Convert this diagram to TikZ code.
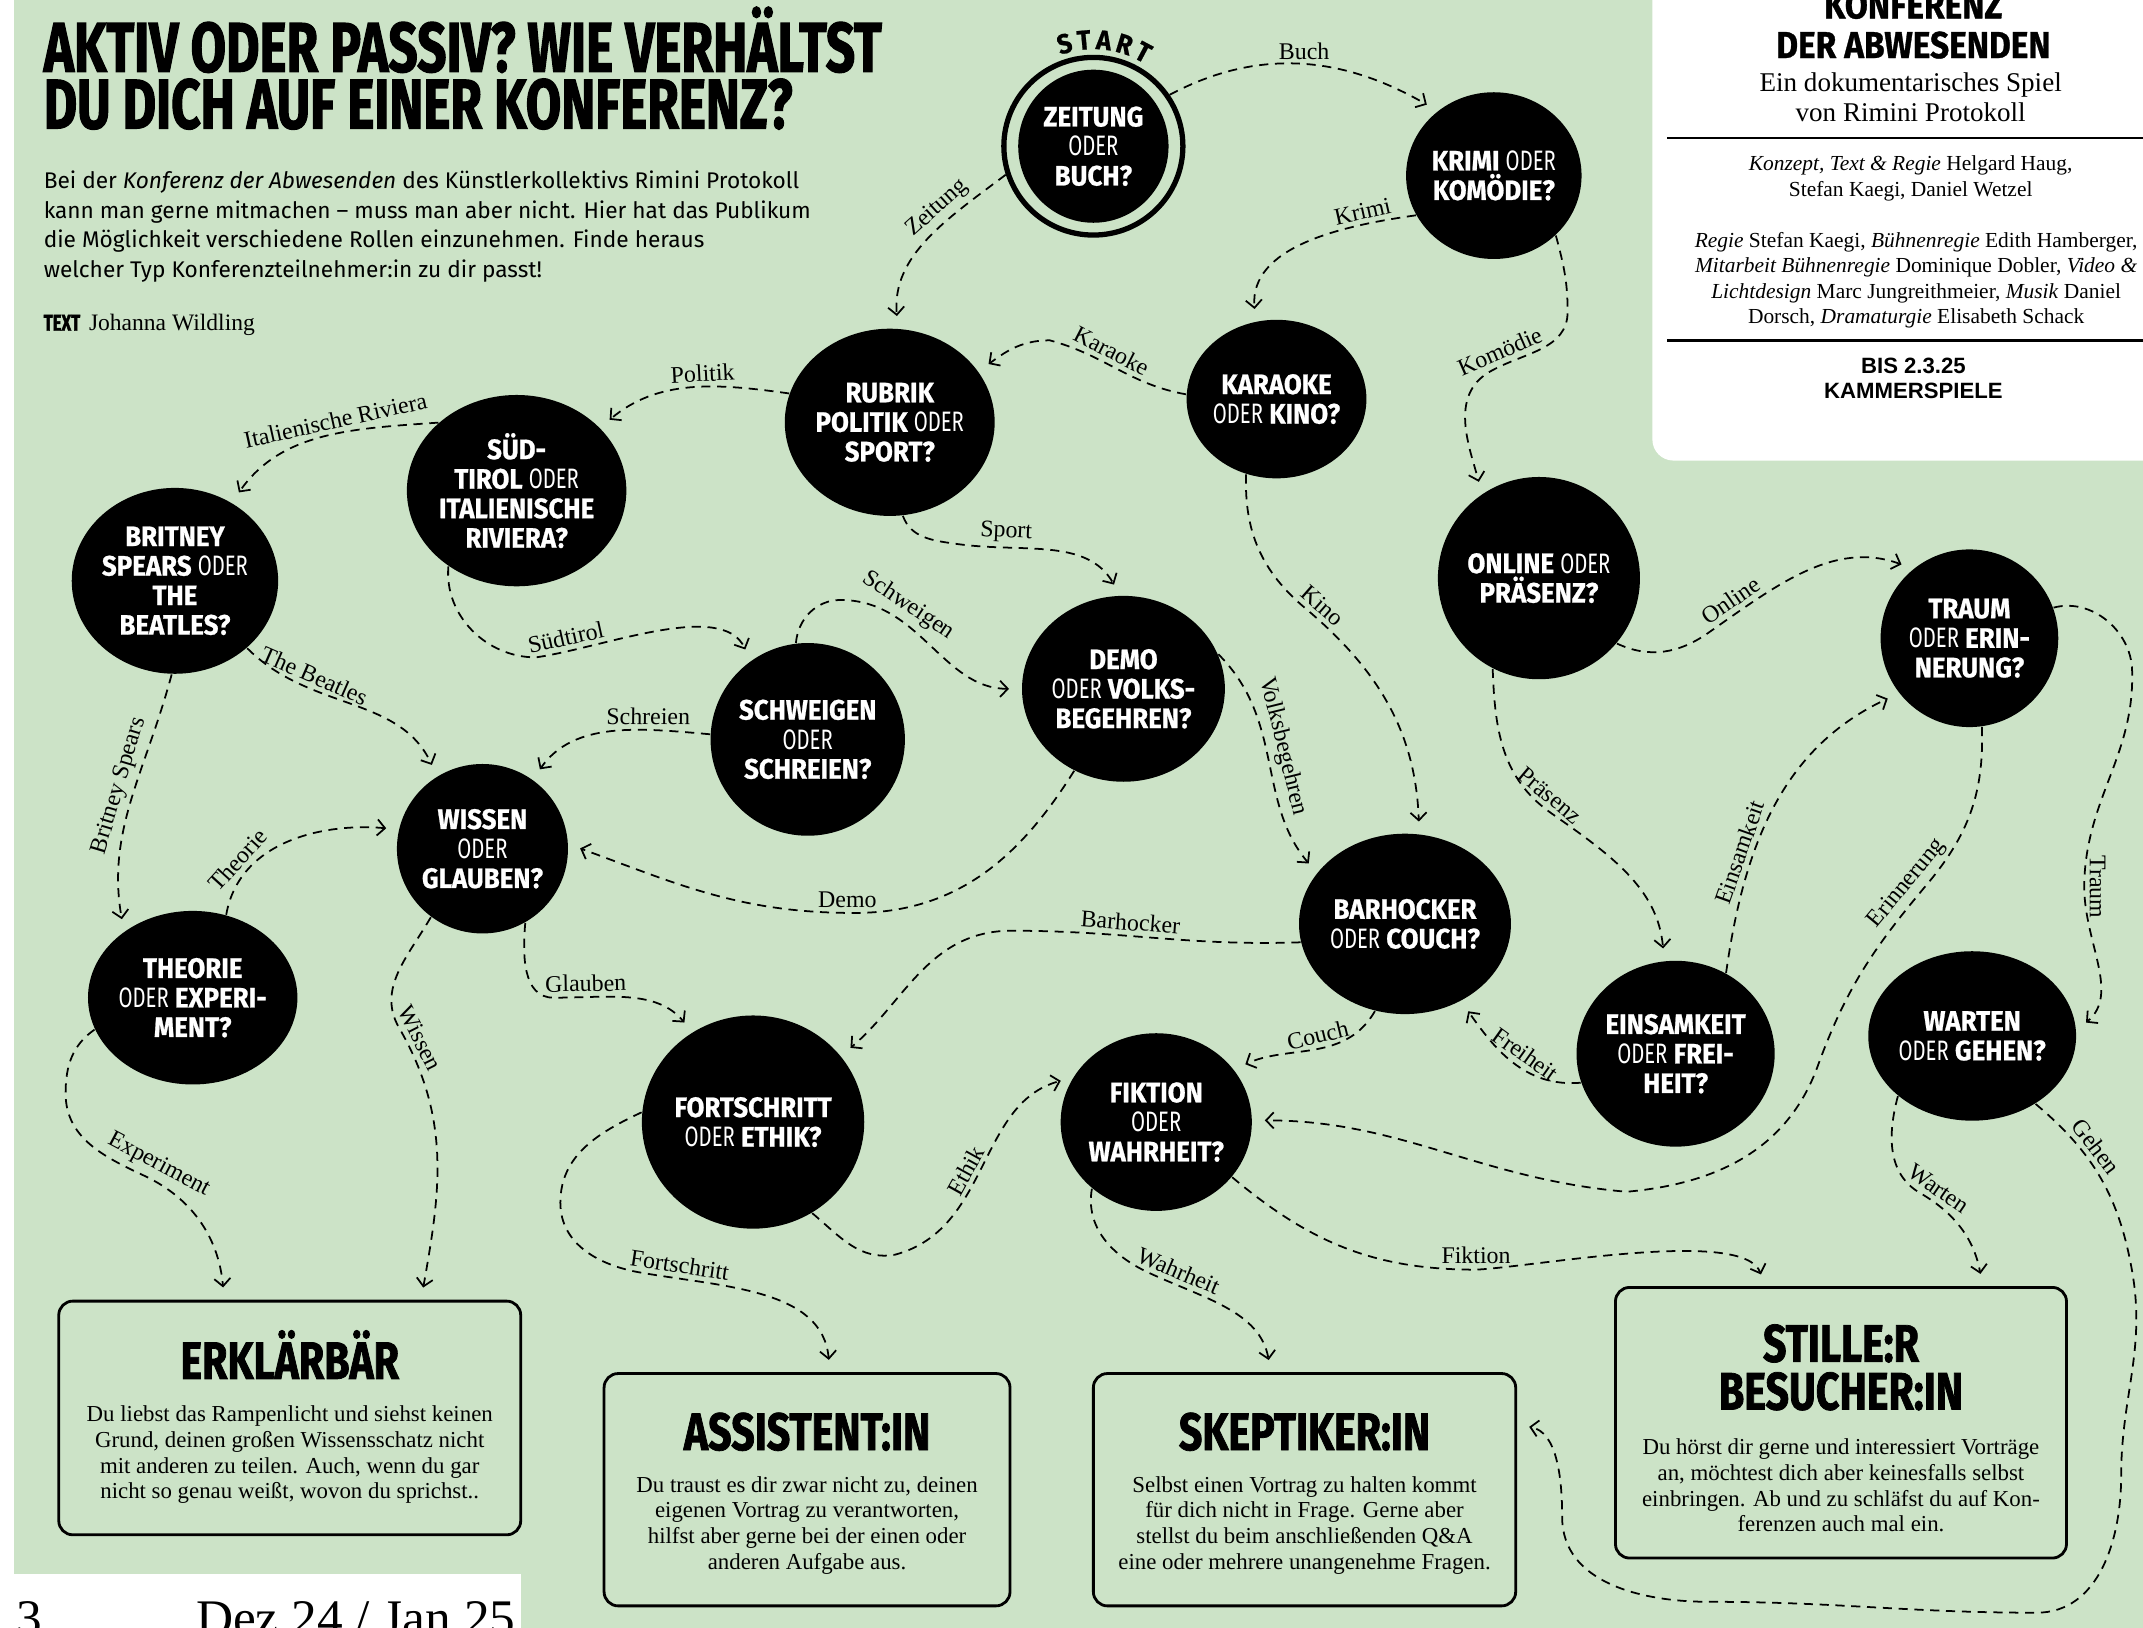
\documentclass[tikz,border=0pt]{standalone}
\usepackage{fontspec}
\setmainfont{Liberation Serif}
\newfontfamily\kopf[FakeStretch=0.73,BoldFeatures={FakeBold=1.6}]{Fira Sans}
\newfontfamily\marke[FakeStretch=0.78,BoldFeatures={FakeBold=1.4}]{Fira Sans}
\newfontfamily\kopfb[FakeStretch=0.89,BoldFeatures={FakeBold=0.8}]{Fira Sans}
\newfontfamily\kreis[FakeStretch=0.92,BoldFeatures={FakeBold=0.8}]{Fira Sans}
\newfontfamily\odrfont[FakeStretch=0.72]{Fira Sans}
\newfontfamily\grot{Fira Sans}
\newfontfamily\arial{Liberation Sans}
\usetikzlibrary{arrows.meta,positioning,shapes.geometric,decorations.text}
\definecolor{gruen}{HTML}{CCE3C7}
\newlength{\einh}\setlength{\einh}{0.13667mm}
\newcommand{\oder}{{\odrfont\mdseries ODER}}
\tikzset{frage/.style 2 args={ellipse,fill=black,text=white,inner sep=0pt,align=center,
  minimum width=#1\einh,minimum height=#2\einh,font=\kreis\bfseries\fontsize{8}{8.4}\selectfont},
  ring/.style={ellipse,draw,line width=1.5pt,inner sep=0pt,minimum width=131\einh,minimum height=130\einh},
  ergebnis/.style 2 args={draw,rounded corners=4pt,line width=0.8pt,inner sep=0pt,
  minimum width=#1\einh,minimum height=#2\einh},
  etitel/.style={font=\marke\bfseries\fontsize{15}{13.6}\selectfont,align=center,inner sep=0pt},
  etext/.style={font=\fontsize{6.5}{7.35}\selectfont,align=center,inner sep=0pt},
  titel/.style={font=\kopf\bfseries\fontsize{20}{18}\selectfont,inner sep=0pt,anchor=base west},
  pfad/.style={line width=0.5pt,dash pattern=on 2.6pt off 1.9pt,
  -{Straight Barb[length=2.2pt,width=4.6pt]},shorten >=3.5pt},
  lbl/.style={font=\fontsize{6.8}{7}\selectfont,inner sep=1.3pt}}

\begin{document}
\begin{tikzpicture}[x=0.13667mm,y=0.13667mm]
\useasboundingbox (0,0) rectangle (1568,-1191);
\fill[white] (0,0) rectangle (1568,-1191);
\fill[gruen] (10,0) rectangle (1568,-1191);
\fill[white] (0,-1152) rectangle (381,-1191);
\fill[white,rounded corners=6pt] (1209,-337) rectangle (1620,30);

% Kopf
\node[titel] (titel1) at (31.5,-52.5) {AKTIV ODER PASSIV? WIE VERHÄLTST};
\node[titel] (titel2) at (31.5,-94) {DU DICH AUF EINER KONFERENZ?};
\node[anchor=north west,align=left,inner sep=0pt,font=\grot\fontsize{6.45}{8.4}\selectfont] (intro) at (31.5,-124.5)
  {Bei der \textit{Konferenz der Abwesenden} des Künstlerkollektivs Rimini Protokoll\\%
   kann man gerne mitmachen – muss man aber nicht. Hier hat das Publikum\\%
   die Möglichkeit verschiedene Rollen einzunehmen. Finde heraus\\%
   welcher Typ Konferenzteilnehmer:in zu dir passt!};
\node[anchor=base west,inner sep=0pt] (autor) at (31.5,-242)
  {{\kopf\bfseries\fontsize{6.5}{8}\selectfont TEXT} {\fontsize{6.7}{8}\selectfont Johanna Wildling}};

% Infokasten
\node[anchor=south,align=center,inner sep=0pt,font=\kopfb\bfseries\fontsize{10.7}{11.3}\selectfont] (stueck) at (1400,-43.5) {KONFERENZ\\DER ABWESENDEN};
\node[anchor=north,align=center,inner sep=0pt,font=\fontsize{7.7}{8.55}\selectfont] (spiel) at (1398,-52.5) {Ein dokumentarisches Spiel\\von Rimini Protokoll};
\draw[line width=0.8pt] (1220,-101) -- (1600,-101);
\node[anchor=north,align=center,inner sep=0pt,font=\fontsize{6.1}{7.3}\selectfont] (team1) at (1398,-113.3)
  {\textit{Konzept, Text \& Regie} Helgard Haug,\\Stefan Kaegi, Daniel Wetzel};
\node[anchor=north,align=center,inner sep=0pt,font=\fontsize{6.1}{7.15}\selectfont] (team2) at (1402,-169.8)
  {\textit{Regie} Stefan Kaegi, \textit{Bühnenregie} Edith Hamberger,\\%
   \textit{Mitarbeit Bühnenregie} Dominique Dobler, \textit{Video \&}\\%
   \textit{Lichtdesign} Marc Jungreithmeier, \textit{Musik} Daniel\\%
   Dorsch, \textit{Dramaturgie} Elisabeth Schack};
\draw[line width=0.8pt] (1220,-249) -- (1600,-249);
\node[anchor=north,align=center,inner sep=0pt,font=\arial\bfseries\fontsize{6.3}{7}\selectfont] (termin) at (1400,-261.6) {BIS 2.3.25\\KAMMERSPIELE};

\node[anchor=base west,inner sep=0pt,font=\fontsize{14.6}{15}\selectfont] (seite) at (11.5,-1197) {3};
\node[anchor=base west,inner sep=0pt,font=\fontsize{14.6}{15}\selectfont] (datum) at (143,-1197) {Dez 24 / Jan 25};

% Fragen
\node[ring] (start) at (800,-107) {};
\node[frage={110}{112}] (zeit) at (800,-107) {ZEITUNG\\\oder\\BUCH?};
\path[decorate,decoration={text along path,text align=fit to path,
  text={|\kreis\bfseries\fontsize{7.8}{8}\selectfont|START}}] (start.center) ++(110:71) arc[start angle=110,end angle=58,radius=71];
\node[frage={124}{122}] (krimi) at (1093,-128.5) {KRIMI \oder\\KOMÖDIE?};
\node[frage={116}{116}] (karaoke) at (934,-292) {KARAOKE\\\oder\ KINO?};
\node[frage={138}{137}] (rubrik) at (651,-309) {RUBRIK\\POLITIK \oder\\SPORT?};
\node[frage={139}{140}] (sued) at (378,-359) {SÜD-\\TIROL \oder\\ITALIENISCHE\\RIVIERA?};
\node[frage={132}{136}] (britney) at (128,-425) {BRITNEY\\SPEARS \oder\\THE\\BEATLES?};
\node[frage={122}{124}] (wissen) at (353,-621) {WISSEN\\\oder\\GLAUBEN?};
\node[frage={140}{141}] (schweigen) at (591,-541) {SCHWEIGEN\\\oder\\SCHREIEN?};
\node[frage={133}{136}] (demo) at (822,-504) {DEMO\\\oder\ VOLKS-\\BEGEHREN?};
\node[frage={130}{127}] (theorie) at (141,-730) {THEORIE\\\oder\ EXPERI-\\MENT?};
\node[frage={145}{148}] (online) at (1126,-423) {ONLINE \oder\\PRÄSENZ?};
\node[frage={130}{130}] (traum) at (1441,-467) {TRAUM\\\oder\ ERIN-\\NERUNG?};
\node[frage={130}{132}] (barhocker) at (1028,-676) {BARHOCKER\\\oder\ COUCH?};
\node[frage={138}{136}] (einsam) at (1226,-771) {EINSAMKEIT\\\oder\ FREI-\\HEIT?};
\node[frage={124}{124}] (warten) at (1443,-758) {WARTEN\\\oder\ GEHEN?};
\node[frage={157}{156}] (fort) at (551,-821) {FORTSCHRITT\\\oder\ ETHIK?};
\node[frage={130}{130}] (fiktion) at (846,-821) {FIKTION\\\oder\\WAHRHEIT?};

% Ergebnisse
\node[ergebnis={338}{171}] (erkl) at (212,-1037.5) {};
\node[etitel,anchor=base] (erklT) at ([yshift=-58\einh]erkl.north) {ERKLÄRBÄR};
\node[etext,below=19\einh of erklT.base] (erklX) {Du liebst das Rampenlicht und siehst keinen\\%
  Grund, deinen großen Wissensschatz nicht\\mit anderen zu teilen. Auch, wenn du gar\\%
  nicht so genau weißt, wovon du sprichst..};
\node[ergebnis={297}{170}] (assist) at (590.5,-1090) {};
\node[etitel,anchor=base] (assistT) at ([yshift=-57\einh]assist.north) {ASSISTENT:IN};
\node[etext,below=18.6\einh of assistT.base] (assistX) {Du traust es dir zwar nicht zu, deinen\\%
  eigenen Vortrag zu verantworten,\\hilfst aber gerne bei der einen oder\\anderen Aufgabe aus.};
\node[ergebnis={309}{170}] (skep) at (954.5,-1090) {};
\node[etitel,anchor=base] (skepT) at ([yshift=-57\einh]skep.north) {SKEPTIKER:IN};
\node[etext,below=18.6\einh of skepT.base] (skepX) {Selbst einen Vortrag zu halten kommt\\%
  für dich nicht in Frage. Gerne aber\\stellst du beim anschließenden Q\&A\\%
  eine oder mehrere unangenehme Fragen.};
\node[ergebnis={330}{198}] (stille) at (1347,-1041) {};
\node[etitel,anchor=north] (stilleT) at ([yshift=-27.5\einh]stille.north) {STILLE:R\\BESUCHER:IN};
\node[etext,below=19.6\einh of stilleT] (stilleX) {Du hörst dir gerne und interessiert Vorträge\\%
  an, möchtest dich aber keinesfalls selbst\\einbringen. Ab und zu schläfst du auf Kon-\\%
  ferenzen auch mal ein.};

% Wege
\draw[pfad] (start.34) to[out=28,in=150] node[lbl,pos=.5,above]{Buch} (krimi.131);
\draw[pfad] (start.198) to[out=217,in=95] node[lbl,pos=.35,sloped,above]{Zeitung} (rubrik.85);
\draw[pfad] (krimi.207) to[out=188,in=95] node[lbl,pos=.22,sloped,above]{Krimi} (karaoke.105);
\draw[pfad] (krimi.316) to[out=-75,in=90] (1147,-228) to[out=-90,in=30] node[lbl,pos=.85,sloped,above]{Komödie} (1090,-272)
  to[out=-150,in=105] (online.124);
\draw[pfad] (karaoke.177) to[out=170,in=-15] node[lbl,pos=.6,sloped,above]{Karaoke} (768,-249) to[out=180,in=35] (rubrik.30);
\draw[pfad] (karaoke.248) to[out=-92,in=140] (955,-445) to[out=-40,in=92] node[lbl,pos=.04,sloped,above]{Kino} (barhocker.81);
\draw[pfad] (rubrik.164) to[out=172,in=40] node[lbl,pos=.42,sloped,above]{Politik} (sued.37);
\draw[pfad] (rubrik.-82) to[out=-70,in=172] (700,-398) to[out=-8,in=120] node[lbl,pos=.25,sloped,above]{Sport} (demo.92);
\draw[pfad] (sued.139) to[out=184,in=55] node[lbl,pos=.42,sloped,above]{Italienische Riviera} (britney.54);
\draw[pfad] (sued.228) to[out=-95,in=180] (392,-481) to[out=8,in=115,looseness=.8] node[lbl,pos=.15,sloped,above]{Südtirol} (schweigen.126);
\draw[pfad] (britney.-43) to[out=-45,in=115] node[lbl,pos=.3,sloped,above]{The Beatles} (wissen.122);
\draw[pfad] (britney.268) to[out=-105,in=100] node[lbl,pos=.45,sloped,above]{Britney Spears} (theorie.136);
\draw[pfad] (schweigen.97) to[out=85,in=180] (615,-439) to[out=0,in=180] node[lbl,pos=.3,sloped,above]{Schweigen} (demo.180);
\draw[pfad] (schweigen.177) to[out=175,in=55] node[lbl,pos=.3,sloped,above]{Schreien} (wissen.54);
\draw[pfad] (theorie.68) to[out=80,in=175] node[lbl,pos=.25,sloped,above]{Theorie} (wissen.167);
\draw[pfad] (demo.239) to[out=-122,in=0] (625,-668) to[out=180,in=-20] node[lbl,pos=.02,above]{Demo} (wissen.3);
\draw[pfad] (demo.20) to[out=-45,in=130] node[lbl,pos=.45,sloped,above]{Volksbegehren} (barhocker.150);
\draw[pfad] (wissen.-60) to[out=-95,in=180] (405,-730) to[out=0,in=130] node[lbl,pos=.2,sloped,above]{Glauben} (fort.124);
\draw[pfad] (wissen.233) to[out=-120,in=120] (292,-752) to[out=-60,in=80] node[lbl,pos=.06,sloped,above]{Wissen} (erkl.42);
\draw[pfad] (theorie.198) to[out=215,in=90] (48,-800) to[out=-90,in=155] (105,-860)
  to[out=-25,in=95] node[lbl,pos=.05,sloped,above]{Experiment} (erkl.119);
\draw[pfad] (barhocker.190) to[out=182,in=0] node[lbl,pos=.6,sloped,above]{Barhocker} (740,-681) to[out=180,in=40] (fort.37);
\draw[pfad] (barhocker.251) to[out=-120,in=25] node[lbl,pos=.45,sloped,above]{Couch} (fiktion.34);
\draw[pfad] (online.243) to[out=-88,in=145] node[lbl,pos=.93,sloped,above]{Präsenz} (1135,-595) to[out=-35,in=95] (einsam.97);
\draw[pfad] (online.-40) to[out=-25,in=215] (1250,-463) to[out=35,in=160] node[lbl,pos=.15,sloped,above]{Online} (traum.129);
\draw[pfad] (einsam.197) to[out=185,in=-55] node[lbl,pos=.45,sloped,above]{Freiheit} (barhocker.-54);
\draw[pfad] (einsam.58) to[out=82,in=205] node[lbl,pos=.33,sloped,above]{Einsamkeit} (traum.218);
\draw[pfad] (traum.-82) to[out=-88,in=50] (1410,-647) to[out=-130,in=70] node[lbl,pos=.05,sloped,above]{Erinnerung} (1330,-780)
  to[out=-110,in=5] (1190,-872) to[out=175,in=0] (fiktion.1);
\draw[pfad] (traum.20) to[out=15,in=92] (1560,-490) to[out=-88,in=88] (1525,-645)
  to[out=-92,in=40] node[lbl,pos=.03,rotate=-90,anchor=south]{Traum} (warten.3);
\draw[pfad] (warten.219) to[out=-105,in=150] (1405,-873) to[out=-30,in=100] node[lbl,pos=.1,sloped,above]{Warten} (stille.44);
\draw[pfad] (warten.-47) to[out=-40,in=100] node[lbl,pos=.35,sloped,above]{Gehen} (1560,-930) to[out=-80,in=90] (1552,-1080)
  to[out=-90,in=0] (1490,-1180) to[out=180,in=0] (1250,-1172) to[out=180,in=-90] (1143,-1110) to[out=90,in=-10] (skep.17);
\draw[pfad] (fiktion.-36) to[out=-40,in=180] (1080,-929) to[out=3,in=110,looseness=.55] node[lbl,pos=0,above]{Fiktion} (stille.119);
\draw[pfad] (fiktion.226) to[out=-100,in=155] (840,-931) to[out=-25,in=100] node[lbl,pos=.15,sloped,above]{Wahrheit} (skep.106);
\draw[pfad] (fort.-57) to[out=-40,in=190] (655,-918) to[out=15,in=195] node[lbl,pos=.45,sloped,above]{Ethik} (fiktion.152);
\draw[pfad] (fort.175) to[out=205,in=90] (410,-880) to[out=-90,in=170] (468,-931)
  to[out=-10,in=95] node[lbl,pos=.15,sloped,above]{Fortschritt} (assist.79);
\end{tikzpicture}
\end{document}
